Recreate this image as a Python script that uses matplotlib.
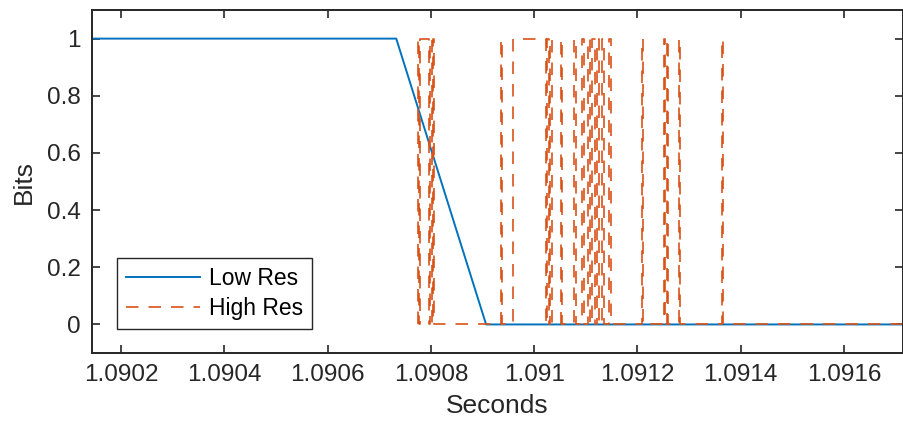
import numpy as np
import matplotlib
matplotlib.use('Agg')
import matplotlib.pyplot as plt

plt.rcParams['font.family'] = ['Liberation Sans', 'DejaVu Sans']

# low resolution signal (sample times / bit value)
lo_t = [1.09010, 1.090733, 1.090907, 1.09175]
lo_v = [1, 1, 0, 0]

# high resolution signal, value holds from each time to the next
hi_t = [1.090775, 1.090776, 1.0907765, 1.0907785, 1.0907955, 1.0907975, 1.0908014, 1.0908033, 1.0908053,
        1.0909367, 1.0909387, 1.090960, 1.091022, 1.0910257, 1.0910296, 1.0910315, 1.0910354,
        1.0910528, 1.0910547,
        1.0910779, 1.0910818, 1.0910934, 1.0910972, 1.091105, 1.0911089, 1.0911127, 1.0911185,
        1.0911224, 1.0911263, 1.091132, 1.0911359, 1.0911456, 1.0911495,
        1.0912094, 1.0912114, 1.091252, 1.0912539, 1.0912578, 1.0912597,
        1.091281, 1.0912829, 1.0913641, 1.091366, 1.09175]
hi_v = [0, 1, 0, 1, 0, 1, 0, 1, 0,
        1, 0, 1, 0, 1, 0, 1, 0,
        1, 0,
        1, 0, 1, 0, 1, 0, 1, 0,
        1, 0, 1, 0, 1, 0,
        1, 0, 1, 0, 1, 0,
        1, 0, 1, 0, 0]

xticks = [1.0902, 1.0904, 1.0906, 1.0908, 1.0910, 1.0912, 1.0914, 1.0916]
xlabels = ['1.0902', '1.0904', '1.0906', '1.0908', '1.091', '1.0912', '1.0914', '1.0916']
yticks = [0, 0.2, 0.4, 0.6, 0.8, 1]
ylabels = ['0', '0.2', '0.4', '0.6', '0.8', '1']

blue = '#0072BD'
orange = '#D95319'
dark = '#262626'

fig = plt.figure(figsize=(9.04, 4.30), dpi=100)
ax = fig.add_axes([0.1018, 0.179, 0.897, 0.7977])

ax.plot(lo_t, lo_v, color=blue, lw=1.4, label='Low Res')
ax.plot(hi_t, hi_v, color=orange, lw=1.2, dashes=(7.5, 6), drawstyle='steps-post', label='High Res')

ax.set_xlim(1.090144, 1.091714)
ax.set_ylim(-0.1, 1.1)
ax.set_xticks(xticks)
ax.set_xticklabels(xlabels)
ax.set_yticks(yticks)
ax.set_yticklabels(ylabels)

ax.tick_params(direction='in', length=6, width=1.2, colors=dark, labelsize=17.5,
               top=True, right=True, pad=8)
for s in ax.spines.values():
    s.set_color(dark)
    s.set_linewidth(1.4)

ax.set_xlabel('Seconds', fontsize=19, color=dark, labelpad=6)
ax.set_ylabel('Bits', fontsize=19, color=dark, labelpad=8)

leg = ax.legend(loc='lower left', bbox_to_anchor=(0.031, 0.07), borderaxespad=0,
                fontsize=16.5, fancybox=False, framealpha=1, edgecolor=dark,
                handlelength=3.2, handletextpad=0.4, borderpad=0.4, labelspacing=0.3)
leg.get_frame().set_linewidth(1.0)

fig.savefig('out.png', dpi=100)
